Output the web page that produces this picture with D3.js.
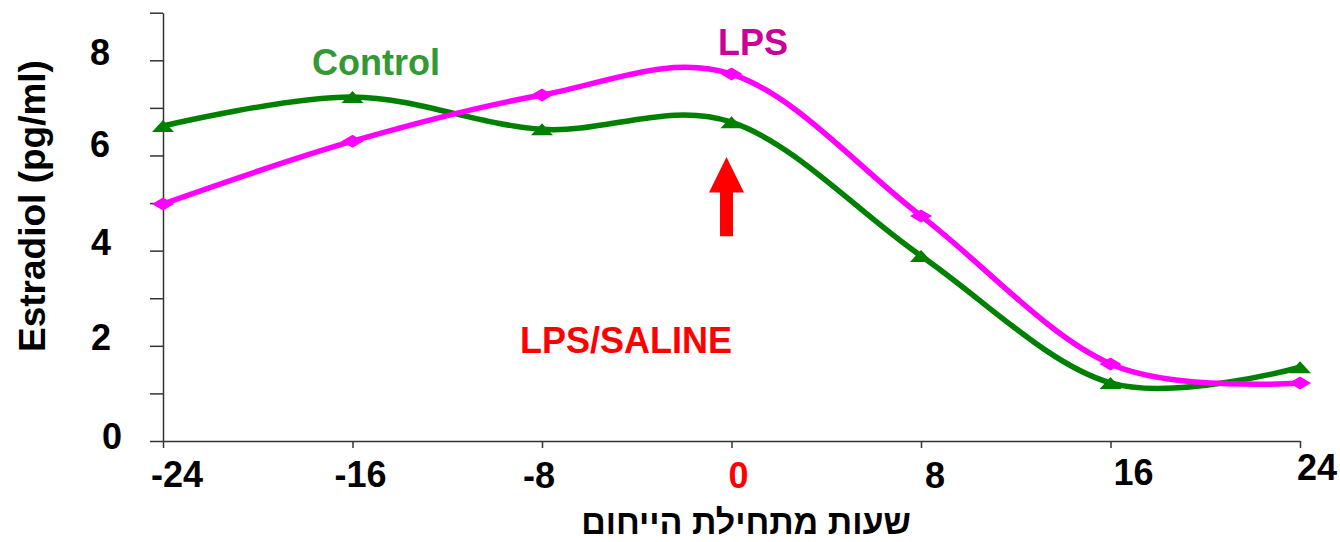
<!DOCTYPE html>
<html>
<head>
<meta charset="utf-8">
<script src="https://cdn.jsdelivr.net/npm/d3@7"></script>
<style>
  body { margin: 0; background: #fff; }
  text { font-family: "Liberation Sans", Arial, sans-serif; font-weight: bold; }
</style>
</head>
<body>
<svg id="chart" width="1340" height="542"></svg>
<script>
// hours from start of estrus, estradiol (pg/ml)
const hours = [-24, -16, -8, 0, 8, 16, 24]
const control = [6.62, 7.23, 6.55, 6.70, 3.89, 1.22, 1.55]
const lps = [4.98, 6.30, 7.27, 7.71, 4.73, 1.62, 1.22]
const yTickValues = [0, 1, 2, 3, 4, 5, 6, 7, 8, 9]
const yTickLabels = [0, 2, 4, 6, 8]
const xTickLabels = ['-24', '-16', '-8', '0', '8', '16', '24']

let svg = d3.select('#chart')

let x = d3.scaleLinear().domain([-24, 24]).range([163, 1300])
let y = d3.scaleLinear().domain([0, 9]).range([441, 12.7])

// y axis (ticks at every unit, labels on even ones)
let yAxis = svg.append('g')
  .attr('transform', `translate(${x(-24)},0)`)
  .call(d3.axisLeft(y).tickValues(yTickValues).tickSize(13).tickSizeOuter(0).tickFormat(''))
yAxis.select('.domain').attr('stroke', '#333').attr('stroke-width', 1.5)
yAxis.selectAll('.tick line').attr('stroke', '#333').attr('stroke-width', 1.5)

// hand-placed nudges, the original labels are not evenly aligned
let yLabelShift = { 0: [122, 8], 2: [111, 4], 4: [111, 4], 6: [110, 2], 8: [110, 5] }
svg.append('g').selectAll('text').data(yTickLabels).enter()
  .append('text')
  .attr('text-anchor', 'end')
  .attr('x', d => yLabelShift[d][0])
  .attr('y', d => y(d) + yLabelShift[d][1])
  .attr('font-size', 36)
  .attr('fill', '#000')
  .text(d => d)

// x axis
let xAxis = svg.append('g')
  .attr('transform', `translate(0,${y(0)})`)
  .call(d3.axisBottom(x).tickValues(hours).tickSize(7).tickSizeOuter(0).tickFormat(''))
xAxis.select('.domain').attr('stroke', '#333').attr('stroke-width', 1.5)
xAxis.selectAll('.tick line').attr('stroke', '#333').attr('stroke-width', 1.5)

let xLabelShift = {
  '-24': [14, 487], '-16': [8, 487], '-8': [-3, 488], '0': [7, 488],
  '8': [14, 488], '16': [23, 485], '24': [17, 480]
}
svg.append('g').selectAll('text').data(xTickLabels).enter()
  .append('text')
  .attr('text-anchor', 'middle')
  .attr('x', d => x(+d) + xLabelShift[d][0])
  .attr('y', d => xLabelShift[d][1])
  .attr('font-size', 36)
  .attr('fill', d => d === '0' ? '#ff0000' : '#000')
  .text(d => d)

// axis titles
svg.append('text')
  .attr('transform', 'translate(45,206) rotate(-90)')
  .attr('text-anchor', 'middle')
  .attr('font-size', 37)
  .text('Estradiol (pg/ml)')

svg.append('text')
  .attr('x', 746)
  .attr('y', 534)
  .attr('text-anchor', 'middle')
  .attr('font-size', 34)
  .text('שעות מתחילת הייחום')

// series
let line = d3.line()
  .x((d, i) => x(hours[i]))
  .y(d => y(d))
  .curve(d3.curveCatmullRom.alpha(0))

let series = [
  { name: 'control', values: control, color: '#008000', marker: 'M-11,6L0,-6L11,6Z' },
  { name: 'lps', values: lps, color: '#ff00ff', marker: 'M-11,0L0,-6.5L11,0L0,6.5Z' }
]

series.forEach(s => {
  svg.append('path')
    .datum(s.values)
    .attr('fill', 'none')
    .attr('stroke', s.color)
    .attr('stroke-width', 5.5)
    .attr('stroke-linejoin', 'round')
    .attr('d', line)

  svg.append('g').selectAll('path').data(s.values).enter()
    .append('path')
    .attr('d', s.marker)
    .attr('transform', (d, i) => `translate(${x(hours[i])},${y(d)})`)
    .attr('fill', s.color)
})

// series labels
svg.append('text').attr('x', 312).attr('y', 75).attr('font-size', 36)
  .attr('fill', '#339933').text('Control')
svg.append('text').attr('x', 718).attr('y', 55).attr('font-size', 36)
  .attr('fill', '#cc0099').text('LPS')
svg.append('text').attr('x', 520).attr('y', 353).attr('font-size', 36)
  .attr('fill', '#ff0000').text('LPS/SALINE')

// red arrow marking treatment at hour 0
let ax = x(0) - 5
let aTop = y(5.97), aNeck = y(5.22), aBot = y(4.3)
svg.append('path')
  .attr('d', `M${ax},${aTop}L${ax + 17.5},${aNeck}L${ax + 6.5},${aNeck}L${ax + 6.5},${aBot}` +
    `L${ax - 6.5},${aBot}L${ax - 6.5},${aNeck}L${ax - 17.5},${aNeck}Z`)
  .attr('fill', '#ff0000')
</script>
</body>
</html>
